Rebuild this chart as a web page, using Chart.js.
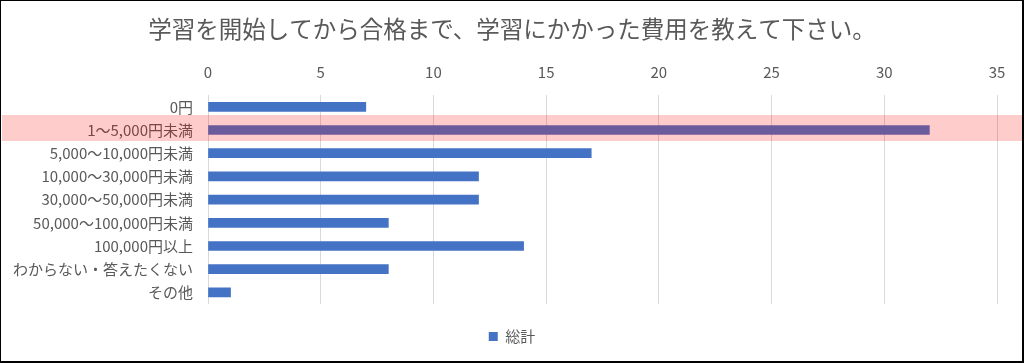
<!DOCTYPE html>
<html lang="ja">
<head>
  <meta charset="UTF-8" />
  <title>学習費用</title>
  <script src="https://cdn.jsdelivr.net/npm/chart.js"></script>
  <style>
    html, body { margin: 0; padding: 0; background: #fff; }
    #wrap { position: relative; width: 1024px; height: 363px; }
    #frame { position: absolute; inset: 0; border-style: solid; border-color: #000; border-width: 1px 2px 2px 1px; pointer-events: none; }
  </style>
</head>
<body>
  <div id="wrap">
    <canvas id="costChart" width="1024" height="363"></canvas>
    <div id="frame"></div>
  </div>

  <script>
    const categories = [
      "0円",
      "1～5,000円未満",
      "5,000～10,000円未満",
      "10,000～30,000円未満",
      "30,000～50,000円未満",
      "50,000～100,000円未満",
      "100,000円以上",
      "わからない・答えたくない",
      "その他"
    ];
    const totals = [7, 32, 17, 12, 12, 8, 14, 8, 1];
    const highlightIndex = 1;
    const xMax = 35;
    const xStep = 5;

    const FONT = "'Noto Sans CJK JP', 'Noto Sans', sans-serif";
    const GREY = "#595959";

    // pink band across the highlighted row, drawn on top like a translucent shape
    const highlightBand = {
      id: "highlightBand",
      afterDraw(chart) {
        const y = chart.scales.y.getPixelForValue(highlightIndex);
        const ctx = chart.ctx;
        ctx.save();
        ctx.fillStyle = "rgba(255, 0, 0, 0.2)";
        ctx.fillRect(2, y - 15, chart.width - 4, 26);
        ctx.restore();
      }
    };

    new Chart(document.getElementById("costChart"), {
      type: "bar",
      data: {
        labels: categories,
        datasets: [{
          label: "総計",
          data: totals,
          backgroundColor: "#4472C4",
          barThickness: 9
        }]
      },
      options: {
        indexAxis: "y",
        responsive: false,
        animation: false,
        layout: { padding: { top: 0, left: 0, right: 0, bottom: 9 } },
        plugins: {
          title: {
            display: true,
            text: "学習を開始してから合格まで、学習にかかった費用を教えて下さい。",
            color: GREY,
            font: { family: FONT, size: 23.5, weight: "normal" },
            padding: { top: 15, bottom: 7 }
          },
          legend: {
            position: "bottom",
            labels: {
              color: GREY,
              font: { family: FONT, size: 15 },
              boxWidth: 9,
              boxHeight: 9,
              padding: 25
            }
          },
          tooltip: { enabled: false }
        },
        scales: {
          x: {
            position: "top",
            min: 0,
            max: xMax,
            ticks: { stepSize: xStep, color: GREY, font: { family: FONT, size: 15 }, padding: 13.5 },
            grid: { color: "#D9D9D9", drawTicks: false },
            border: { display: false }
          },
          y: {
            ticks: { color: GREY, font: { family: FONT, size: 15 }, padding: 15 },
            grid: { display: false, drawTicks: false },
            border: { display: false },
            afterFit(scale) { scale.width = 208; }
          },
          yRight: {
            position: "right",
            display: true,
            ticks: { display: false },
            grid: { display: false, drawTicks: false },
            border: { display: false },
            afterFit(scale) { scale.width = 27; }
          }
        }
      },
      plugins: [highlightBand]
    });
  </script>
</body>
</html>
